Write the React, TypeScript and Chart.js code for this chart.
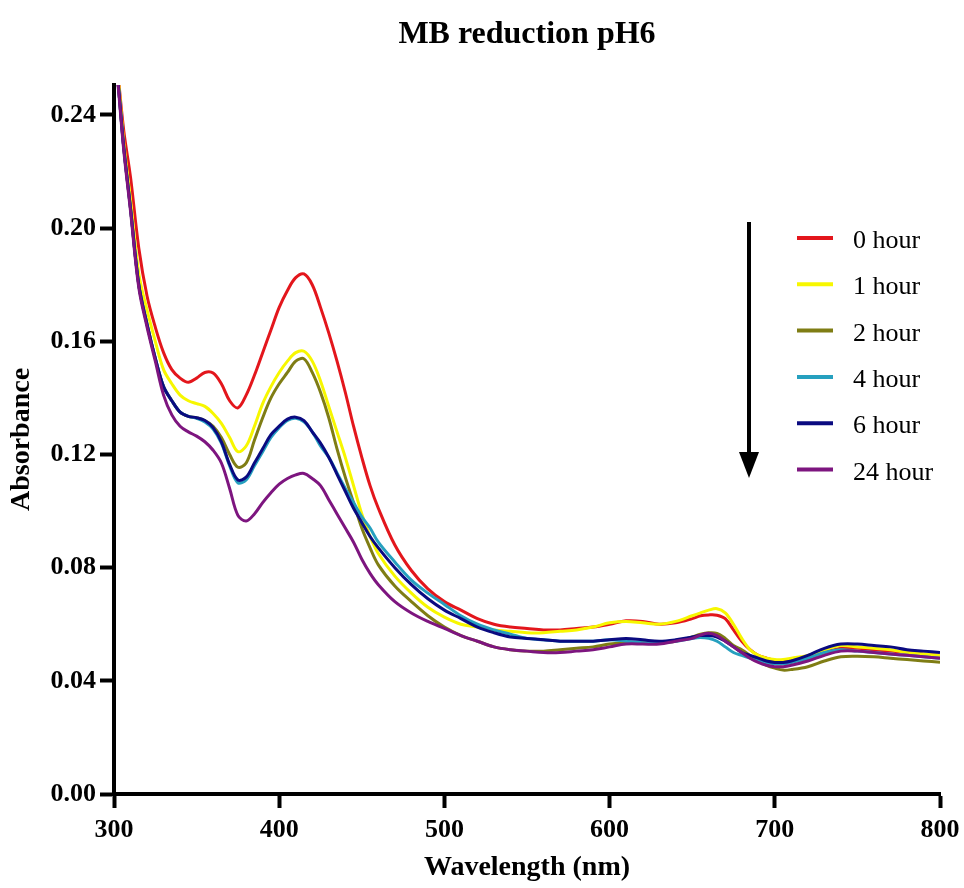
import React, { useEffect, useRef } from "react";
import { Chart, registerables } from "chart.js";

Chart.register(...registerables);

const chartTitle = "MB reduction pH6";
const xAxisTitle = "Wavelength (nm)";
const yAxisTitle = "Absorbance";

const wavelengths = [
  300, 303, 306, 310, 315, 320, 325, 330, 335, 340, 345, 350, 355, 360, 365, 370, 375, 380, 385, 390,
  395, 400, 405, 410, 415, 420, 425, 430, 435, 440, 445, 450, 455, 460, 470, 480, 490, 500, 510, 520,
  530, 540, 550, 560, 570, 580, 590, 600, 610, 620, 630, 640, 650, 655, 660, 665, 670, 675, 680, 685,
  690, 695, 700, 705, 710, 720, 730, 740, 750, 760, 770, 780, 790, 800,
];

const hour0 = [
  0.27, 0.251, 0.234, 0.218, 0.193, 0.176, 0.165, 0.156, 0.15, 0.147, 0.1455, 0.147, 0.149, 0.1488, 0.145, 0.139, 0.1365, 0.141, 0.148, 0.156,
  0.164, 0.172, 0.178, 0.1825, 0.1838, 0.18, 0.172, 0.163, 0.153, 0.142, 0.13, 0.119, 0.109, 0.101, 0.088, 0.079, 0.0725, 0.068, 0.065, 0.062,
  0.06, 0.059, 0.0585, 0.058, 0.058, 0.0585, 0.059, 0.06, 0.0612, 0.061, 0.06, 0.0605, 0.062, 0.063, 0.0633, 0.0632, 0.062, 0.058, 0.054, 0.051,
  0.049, 0.048, 0.0472, 0.047, 0.0475, 0.048, 0.05, 0.0515, 0.0515, 0.051, 0.0505, 0.05, 0.0495, 0.049,
];

const hour1 = [
  0.269, 0.25, 0.23, 0.21, 0.184, 0.171, 0.16, 0.15, 0.145, 0.141, 0.139, 0.138, 0.137, 0.1345, 0.131, 0.126, 0.121, 0.123, 0.13, 0.138,
  0.144, 0.149, 0.153, 0.156, 0.1565, 0.153, 0.146, 0.137, 0.128, 0.119, 0.109, 0.099, 0.091, 0.085, 0.077, 0.071, 0.066, 0.0625, 0.06, 0.059,
  0.058, 0.0575, 0.057, 0.057, 0.0575, 0.058, 0.059, 0.0605, 0.061, 0.0605, 0.06, 0.061, 0.063, 0.064, 0.065, 0.0655, 0.064, 0.06, 0.055, 0.051,
  0.049, 0.048, 0.0475, 0.0475, 0.048, 0.049, 0.051, 0.0525, 0.052, 0.0515, 0.051, 0.05, 0.0495, 0.049,
];

const hour2 = [
  0.267, 0.248, 0.228, 0.207, 0.18, 0.166, 0.154, 0.144, 0.139, 0.135, 0.1335, 0.133, 0.132, 0.13, 0.126, 0.12, 0.1155, 0.117, 0.125, 0.133,
  0.14, 0.145, 0.149, 0.153, 0.1538, 0.149, 0.142, 0.133, 0.122, 0.112, 0.103, 0.094, 0.087, 0.081, 0.0735, 0.068, 0.063, 0.059, 0.056, 0.054,
  0.052, 0.051, 0.0505, 0.0505, 0.051, 0.0515, 0.052, 0.053, 0.0535, 0.0535, 0.0535, 0.054, 0.0555, 0.0565, 0.057, 0.0568, 0.055, 0.0525, 0.051, 0.049,
  0.047, 0.0455, 0.0445, 0.0438, 0.044, 0.045, 0.047, 0.0485, 0.0487, 0.0485, 0.048, 0.0475, 0.047, 0.0466,
];

const hour4 = [
  0.267, 0.248, 0.228, 0.207, 0.18, 0.166, 0.154, 0.144, 0.139, 0.135, 0.1335, 0.1328, 0.1315, 0.129, 0.124, 0.116, 0.11, 0.111, 0.116, 0.121,
  0.126, 0.1295, 0.132, 0.1328, 0.1315, 0.128, 0.123, 0.119, 0.1135, 0.108, 0.103, 0.098, 0.094, 0.089, 0.082, 0.0756, 0.071, 0.067, 0.063, 0.06,
  0.058, 0.0565, 0.055, 0.0545, 0.054, 0.054, 0.054, 0.0545, 0.054, 0.0535, 0.0535, 0.054, 0.055, 0.0553, 0.055, 0.054, 0.052, 0.05, 0.049, 0.048,
  0.047, 0.0465, 0.046, 0.046, 0.0465, 0.048, 0.05, 0.051, 0.0505, 0.05, 0.0495, 0.049, 0.0485, 0.048,
];

const hour6 = [
  0.267, 0.248, 0.228, 0.207, 0.18, 0.166, 0.154, 0.144, 0.139, 0.135, 0.1335, 0.133, 0.132, 0.1295, 0.1245, 0.1165, 0.111, 0.112, 0.117, 0.122,
  0.127, 0.13, 0.1325, 0.1332, 0.132, 0.128, 0.124, 0.119, 0.113, 0.107, 0.101, 0.096, 0.091, 0.087, 0.08, 0.074, 0.069, 0.065, 0.062, 0.059,
  0.057, 0.0555, 0.055, 0.0545, 0.054, 0.054, 0.054, 0.0545, 0.055, 0.0545, 0.054, 0.0545, 0.0555, 0.056, 0.056, 0.0555, 0.054, 0.052, 0.05, 0.049,
  0.048, 0.047, 0.0465, 0.0465, 0.047, 0.049, 0.0515, 0.053, 0.053, 0.0525, 0.052, 0.051, 0.0505, 0.05,
];

const hour24 = [
  0.266, 0.247, 0.227, 0.206, 0.179, 0.165, 0.153, 0.141, 0.134, 0.13, 0.128, 0.1265, 0.1245, 0.1215, 0.117, 0.108, 0.0985, 0.0965, 0.099, 0.103,
  0.1065, 0.1095, 0.1115, 0.1128, 0.1133, 0.1115, 0.109, 0.104, 0.099, 0.094, 0.089, 0.083, 0.078, 0.074, 0.068, 0.064, 0.061, 0.0585, 0.056, 0.054,
  0.052, 0.051, 0.0505, 0.05, 0.05, 0.0505, 0.051, 0.052, 0.053, 0.053, 0.053, 0.054, 0.055, 0.0562, 0.0568, 0.056, 0.054, 0.052, 0.05, 0.048,
  0.0465, 0.0455, 0.045, 0.045, 0.0455, 0.047, 0.049, 0.0505, 0.0505, 0.05, 0.0495, 0.049, 0.0485, 0.048,
];

const seriesLabels = ["0 hour", "1 hour", "2 hour", "4 hour", "6 hour", "24 hour"];
const seriesColors = ["#e3161c", "#f7f700", "#7f7d14", "#26a0bf", "#0a0a80", "#7d157f"];

const xTicks = [300, 400, 500, 600, 700, 800];
const yTicks = [0, 0.04, 0.08, 0.12, 0.16, 0.2, 0.24];

const SERIF = '"Liberation Serif", "Times New Roman", Times, serif';

export default function App() {
  const canvasRef = useRef<HTMLCanvasElement | null>(null);

  useEffect(() => {
    document.body.style.margin = "0";
    const canvas = canvasRef.current;
    if (!canvas) return;
    const series = [hour0, hour1, hour2, hour4, hour6, hour24];

    const datasets = series.map((vals, i) => ({
      label: seriesLabels[i],
      data: wavelengths.map((w, j) => ({ x: w, y: vals[j] })),
      borderColor: seriesColors[i],
      backgroundColor: seriesColors[i],
      borderWidth: 3,
      pointRadius: 0,
      tension: 0.35,
      fill: false,
      order: series.length - i,
    }));

    const overlay = {
      id: "overlay",
      afterDraw(chart: any) {
        const ctx = chart.ctx as CanvasRenderingContext2D;
        const area = chart.chartArea;
        ctx.save();
        // title
        ctx.fillStyle = "#000";
        ctx.font = `bold 32px ${SERIF}`;
        ctx.textAlign = "center";
        ctx.textBaseline = "alphabetic";
        ctx.fillText(chartTitle, (area.left + area.right) / 2, 43);

        // arrow
        const ax = 749;
        ctx.strokeStyle = "#000";
        ctx.lineWidth = 4;
        ctx.beginPath();
        ctx.moveTo(ax, 222);
        ctx.lineTo(ax, 456);
        ctx.stroke();
        ctx.beginPath();
        ctx.moveTo(ax - 10, 452);
        ctx.lineTo(ax + 10, 452);
        ctx.lineTo(ax, 478);
        ctx.closePath();
        ctx.fill();

        // legend
        ctx.font = `26px ${SERIF}`;
        ctx.textAlign = "left";
        chart.data.datasets.forEach((ds: any, i: number) => {
          const y = 238 + i * 46.3;
          ctx.strokeStyle = ds.borderColor;
          ctx.lineWidth = 4;
          ctx.beginPath();
          ctx.moveTo(797, y);
          ctx.lineTo(833, y);
          ctx.stroke();
          ctx.fillStyle = "#000";
          ctx.fillText(ds.label, 853, y + 10);
        });
        ctx.restore();
      },
    };

    const chart = new Chart(canvas, {
      type: "line",
      data: { datasets },
      options: {
        responsive: false,
        animation: false,
        layout: { padding: { top: 85, right: 24, left: 0, bottom: 0 } },
        plugins: {
          legend: { display: false },
          title: { display: false },
          tooltip: { enabled: false },
        },
        scales: {
          x: {
            type: "linear",
            min: 300,
            max: 800,
            afterBuildTicks: (s: any) => {
              s.ticks = xTicks.map((v) => ({ value: v }));
            },
            afterFit: (s: any) => {
              s.height = 94;
              s.paddingLeft = 0;
              s.paddingRight = 0;
            },
            grid: {
              display: true,
              drawOnChartArea: false,
              drawTicks: true,
              tickLength: 14,
              tickWidth: 4,
              tickColor: "#000",
            },
            border: { display: true, color: "#000", width: 4 },
            ticks: {
              color: "#000",
              font: { family: SERIF, size: 26, weight: "bold" },
              padding: 7,
              maxRotation: 0,
              autoSkip: false,
              callback: (v: any) => String(v),
            },
            title: {
              display: true,
              text: xAxisTitle,
              color: "#000",
              font: { family: SERIF, size: 28, weight: "bold" },
              padding: { top: 0, bottom: 3 },
            },
          },
          y: {
            type: "linear",
            min: 0,
            max: 0.2506,
            afterBuildTicks: (s: any) => {
              s.ticks = yTicks.map((v) => ({ value: v }));
            },
            afterFit: (s: any) => {
              s.width = 114;
              s.paddingTop = 0;
              s.paddingBottom = 0;
            },
            grid: {
              display: true,
              drawOnChartArea: false,
              drawTicks: true,
              tickLength: 14,
              tickWidth: 4,
              tickColor: "#000",
            },
            border: { display: true, color: "#000", width: 4 },
            ticks: {
              color: "#000",
              font: { family: SERIF, size: 26, weight: "bold" },
              padding: 4,
              autoSkip: false,
              callback: (v: any) => Number(v).toFixed(2),
            },
            title: {
              display: true,
              text: yAxisTitle,
              color: "#000",
              font: { family: SERIF, size: 28, weight: "bold" },
              padding: { top: 5, bottom: 0 },
            },
          },
        },
      },
      plugins: [overlay],
    } as any);

    return () => chart.destroy();
  }, []);

  return (
    <div style={{ width: 964, height: 888 }}>
      <canvas ref={canvasRef} width={964} height={888} style={{ display: "block" }} />
    </div>
  );
}
